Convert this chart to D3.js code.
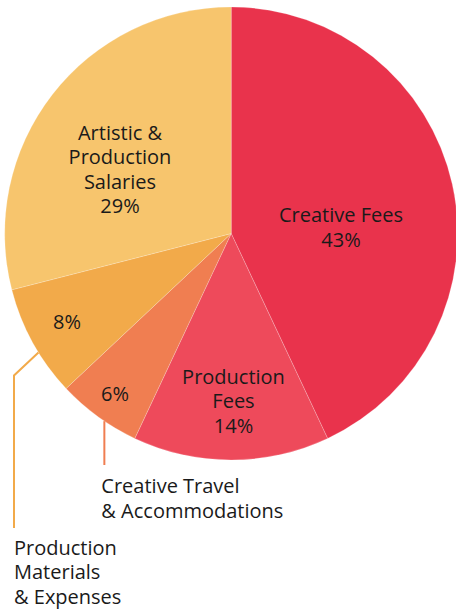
<!DOCTYPE html>
<html>
<head>
<meta charset="utf-8">
<script src="https://cdn.jsdelivr.net/npm/d3@7"></script>
<style>
  html, body { margin: 0; padding: 0; background: #fff; }
  svg { display: block; }
  text { font-family: "Open Sans", sans-serif; font-size: 20px; fill: #1a1a1a; }
</style>
</head>
<body>
<svg id="chart" width="456" height="611"></svg>
<script>
// ---- data ----
const categories = [
  "Creative Fees",
  "Production Fees",
  "Creative Travel & Accommodations",
  "Production Materials & Expenses",
  "Artistic & Production Salaries"
];
const values = [43, 14, 6, 8, 29];
const percentLabels = ["43%", "14%", "6%", "8%", "29%"];
const labelLines = [
  ["Creative Fees", "43%"],
  ["Production", "Fees", "14%"],
  ["6%"],
  ["8%"],
  ["Artistic &", "Production", "Salaries", "29%"]
];
const calloutLines = [
  null,
  null,
  ["Creative Travel", "& Accommodations"],
  ["Production", "Materials", "& Expenses"],
  null
];
const colors = ["#E9334C", "#EE4A5B", "#F07E51", "#F2AA4A", "#F7C56D"];

// ---- layout ----
const cx = 231.2, cy = 233.5, R = 226.5;
const lineH = 24.5;
const labelPos = [
  {x: 341, y: 222},
  {x: 233.5, y: 383.5},
  {x: 115, y: 400.7},
  {x: 67, y: 329},
  {x: 120, y: 139.5}
];

const svg = d3.select("#chart");
const g = svg.append("g").attr("transform", `translate(${cx},${cy})`);

const data = categories.map((c, i) => ({cat: c, value: values[i], i}));
const pie = d3.pie().value(d => d.value).sort(null);
const arcs = pie(data);
const arc = d3.arc().innerRadius(0).outerRadius(R);

g.selectAll("path.slice")
  .data(arcs)
  .join("path")
  .attr("class", "slice")
  .attr("d", arc)
  .attr("fill", d => colors[d.data.i])
  .attr("stroke", "rgba(255,255,255,0.35)")
  .attr("stroke-width", 0.6);

// inside labels
arcs.forEach((a) => {
  const i = a.data.i;
  const p = labelPos[i];
  const t = svg.append("text")
    .attr("text-anchor", "middle")
    .attr("x", p.x).attr("y", p.y);
  labelLines[i].forEach((ln, j) => {
    t.append("tspan").attr("x", p.x).attr("dy", j === 0 ? 0 : lineH).text(ln);
  });
});

// callouts
function edgePoint(a, frac) {
  const ang = a.startAngle + frac * (a.endAngle - a.startAngle);
  return [cx + R * Math.sin(ang), cy - R * Math.cos(ang)];
}
// Creative Travel: straight down
{
  const a = arcs[2];
  const [x0, y0] = edgePoint(a, 0.41);
  const yEnd = 465;
  svg.append("path")
    .attr("d", d3.line()([[x0, y0], [x0, yEnd]]))
    .attr("stroke", colors[2]).attr("stroke-width", 2).attr("fill", "none");
  const t = svg.append("text").attr("x", x0 - 3).attr("y", 493);
  calloutLines[2].forEach((ln, j) => {
    t.append("tspan").attr("x", x0 - 3).attr("dy", j === 0 ? 0 : lineH).text(ln);
  });
}
// Production Materials: elbow then down
{
  const a = arcs[3];
  const [x0, y0] = edgePoint(a, 0.4);
  const xEl = 14, yEl = y0 + (x0 - xEl) * 0.94;
  const yEnd = 528;
  svg.append("path")
    .attr("d", d3.line()([[x0, y0], [xEl, yEl], [xEl, yEnd]]))
    .attr("stroke", colors[3]).attr("stroke-width", 2).attr("fill", "none");
  const t = svg.append("text").attr("x", xEl).attr("y", 554.5);
  calloutLines[3].forEach((ln, j) => {
    t.append("tspan").attr("x", xEl).attr("dy", j === 0 ? 0 : lineH).text(ln);
  });
}
</script>
</body>
</html>
